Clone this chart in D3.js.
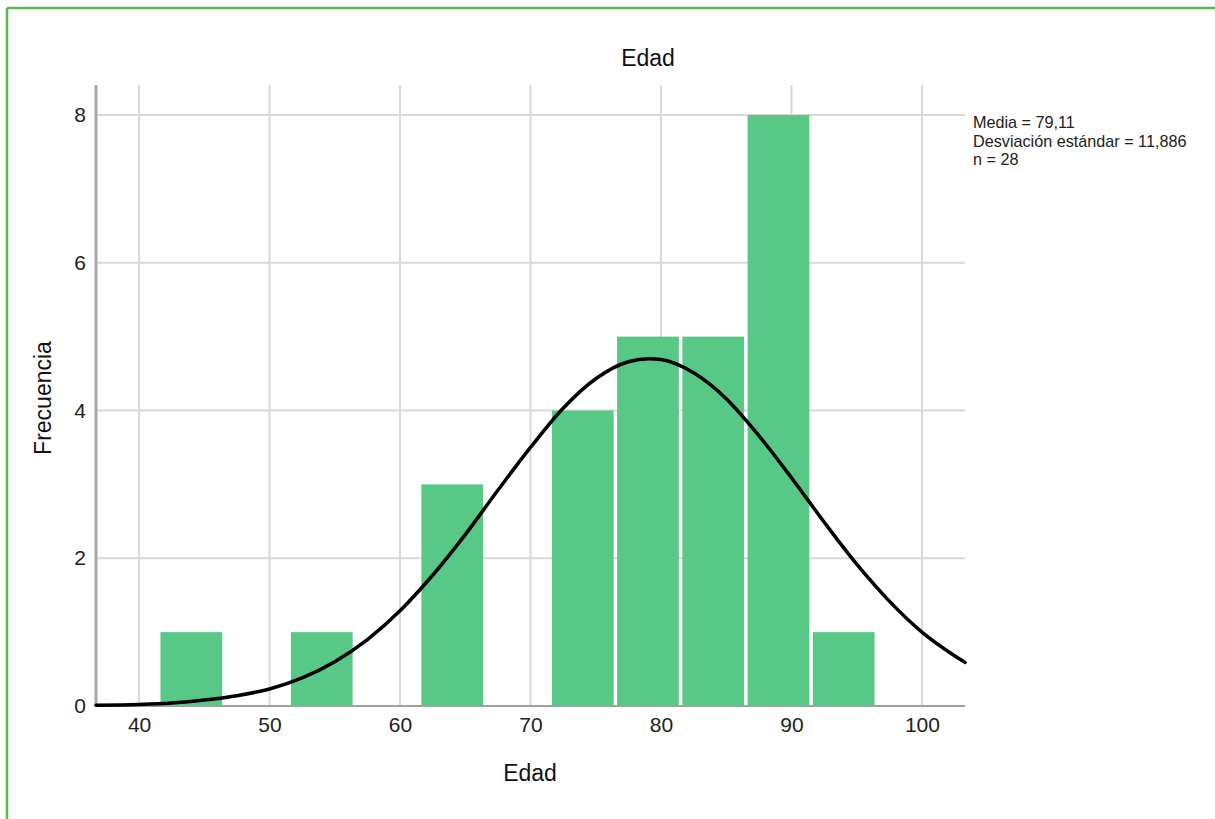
<!DOCTYPE html>
<html>
<head>
<meta charset="utf-8">
<script src="https://cdn.jsdelivr.net/npm/d3@7"></script>
<style>
  html, body { margin: 0; padding: 0; background: #ffffff; }
  svg { display: block; font-family: "Liberation Sans", Arial, Helvetica, sans-serif; }
</style>
</head>
<body>
<svg id="chart" width="1215" height="819"></svg>
<script>
// ---- Data ----
const binStarts = [41.6, 46.6, 51.6, 56.6, 61.6, 66.6, 71.6, 76.6, 81.6, 86.6, 91.6];
const binCounts = [1, 0, 1, 0, 3, 0, 4, 5, 5, 8, 1];
const binWidth = 5;

const curveX = [36.7, 40, 42.5, 45, 47.5, 50, 52.5, 55, 57.5, 60, 62.5, 65, 67.5, 70, 72.5, 75, 77.5, 79.1, 80, 82.5, 85, 87.5, 90, 92.5, 95, 97.5, 100, 102.5, 103.3];
const curveY = [0.01, 0.02, 0.04, 0.08, 0.14, 0.23, 0.38, 0.60, 0.90, 1.29, 1.77, 2.32, 2.92, 3.50, 4.03, 4.43, 4.66, 4.70, 4.69, 4.51, 4.16, 3.66, 3.09, 2.49, 1.92, 1.42, 1.00, 0.68, 0.59];

const xTicks = [40, 50, 60, 70, 80, 90, 100];
const yTicks = [0, 2, 4, 6, 8];
const yGrid = [2, 4, 6, 8];

const titleText = "Edad";
const xLabel = "Edad";
const yLabel = "Frecuencia";
const statsLines = ["Media = 79,11", "Desviación estándar = 11,886", "n = 28"];

// ---- Layout ----
const svg = d3.select("#chart");
const plotLeft = 96, plotRight = 965, plotBottom = 706, plotTop = 85;

const x = d3.scaleLinear().domain([36.7, 103.3]).range([plotLeft, plotRight]);
const y = d3.scaleLinear().domain([0, 8.406]).range([plotBottom, plotTop]);

// frame (top and left green border)
svg.append("line").attr("x1", 7).attr("x2", 1215).attr("y1", 8).attr("y2", 8)
  .attr("stroke", "#5ab553").attr("stroke-width", 2.5);
svg.append("line").attr("x1", 7).attr("x2", 7).attr("y1", 8).attr("y2", 819)
  .attr("stroke", "#5ab553").attr("stroke-width", 2.5);

// gridlines
const gGrid = svg.append("g");
gGrid.selectAll("line.v").data(xTicks).join("line")
  .attr("class", "v")
  .attr("x1", d => x(d)).attr("x2", d => x(d))
  .attr("y1", plotTop).attr("y2", plotBottom)
  .attr("stroke", "#d9d9d9").attr("stroke-width", 2);
gGrid.selectAll("line.h").data(yGrid).join("line")
  .attr("class", "h")
  .attr("x1", plotLeft).attr("x2", plotRight)
  .attr("y1", d => y(d)).attr("y2", d => y(d))
  .attr("stroke", "#d9d9d9").attr("stroke-width", 2);

// bars
const bins = binStarts.map((s, i) => ({ x0: s, x1: s + binWidth, n: binCounts[i] }));
svg.append("g").selectAll("rect").data(bins.filter(d => d.n > 0)).join("rect")
  .attr("x", d => x(d.x0) + 0.5)
  .attr("width", d => x(d.x1) - x(d.x0) - 3.5)
  .attr("y", d => y(d.n))
  .attr("height", d => y(0) - y(d.n))
  .attr("fill", "#58c886");

// axes lines
svg.append("line").attr("x1", plotLeft).attr("x2", plotLeft)
  .attr("y1", plotTop).attr("y2", plotBottom)
  .attr("stroke", "#a9a9a9").attr("stroke-width", 3);
svg.append("line").attr("x1", plotLeft).attr("x2", plotRight)
  .attr("y1", plotBottom).attr("y2", plotBottom)
  .attr("stroke", "#a0a0a0").attr("stroke-width", 2);

// normal curve
const line = d3.line()
  .x(d => x(d[0])).y(d => y(d[1]))
  .curve(d3.curveMonotoneX);
svg.append("path")
  .datum(curveX.map((v, i) => [v, curveY[i]]))
  .attr("d", line)
  .attr("fill", "none")
  .attr("stroke", "#000")
  .attr("stroke-width", 3.5)
  .attr("stroke-linecap", "round");

// tick labels via axis generators
const xAxis = d3.axisBottom(x).tickValues(xTicks).tickSize(0).tickPadding(11).tickFormat(d3.format("d"));
const gx = svg.append("g").attr("transform", `translate(0,${plotBottom})`).call(xAxis);
gx.select(".domain").remove();
gx.selectAll("text").attr("font-size", 21).attr("fill", "#222")
  .attr("font-family", "'Liberation Sans', Arial, sans-serif");

const yAxis = d3.axisLeft(y).tickValues(yTicks).tickSize(0).tickPadding(10).tickFormat(d3.format("d"));
const gy = svg.append("g").attr("transform", `translate(${plotLeft},0)`).call(yAxis);
gy.select(".domain").remove();
gy.selectAll("text").attr("font-size", 21).attr("fill", "#222")
  .attr("font-family", "'Liberation Sans', Arial, sans-serif");

// title & labels
svg.append("text").attr("x", 648).attr("y", 66).attr("text-anchor", "middle")
  .attr("font-size", 23).attr("fill", "#111").text(titleText);
svg.append("text").attr("x", 530).attr("y", 781).attr("text-anchor", "middle")
  .attr("font-size", 23).attr("fill", "#111").text(xLabel);
svg.append("text")
  .attr("transform", "translate(51,398) rotate(-90)")
  .attr("text-anchor", "middle")
  .attr("font-size", 23).attr("fill", "#111").text(yLabel);

// stats annotation
svg.append("g").selectAll("text").data(statsLines).join("text")
  .attr("x", 973)
  .attr("y", (d, i) => 128 + i * 18.7)
  .attr("font-size", 16.2)
  .attr("fill", "#222")
  .text(d => d);
</script>
</body>
</html>
